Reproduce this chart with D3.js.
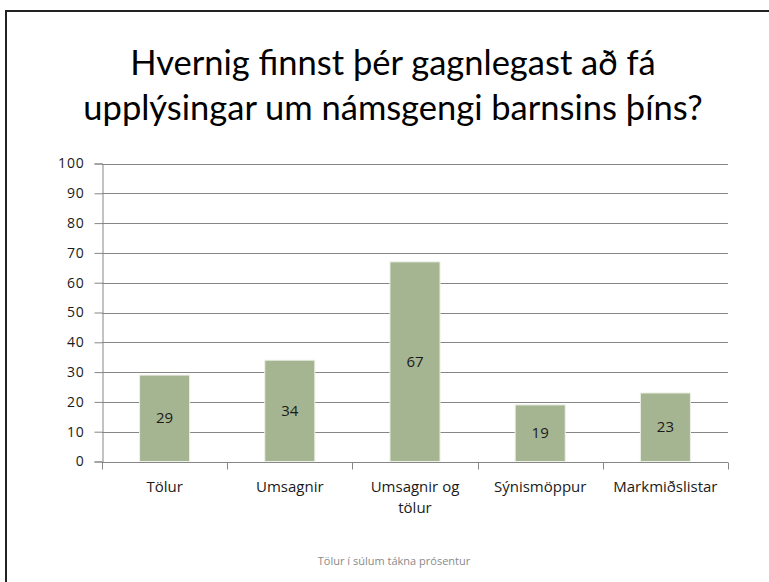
<!DOCTYPE html>
<html>
<head>
<meta charset="utf-8">
<script src="https://cdn.jsdelivr.net/npm/d3@7"></script>
<style>
  body { margin: 0; background: #fff; }
  svg { display: block; }
</style>
</head>
<body>
<svg id="chart"></svg>
<script>
const categories = ["Tölur", "Umsagnir", "Umsagnir og tölur", "Sýnismöppur", "Markmiðslistar"];
const values = [29, 34, 67, 19, 23];
const yTicks = [0, 10, 20, 30, 40, 50, 60, 70, 80, 90, 100];
const titleLines = ["Hvernig finnst þér gagnlegast að fá", "upplýsingar um námsgengi barnsins þíns?"];
const footnote = "Tölur í súlum tákna prósentur";

const width = 769;
const height = 582;
const margin = { top: 163.5, right: 41, bottom: 120.5, left: 102 };

const svg = d3.select("#chart").attr("width", width).attr("height", height);

// slide frame (right and bottom edges run off the picture)
svg.append("rect")
  .attr("x", 6).attr("y", 11)
  .attr("width", 820).attr("height", 620)
  .attr("fill", "none")
  .attr("stroke", "#222")
  .attr("stroke-width", 2);

svg.append("text")
  .attr("text-anchor", "middle")
  .attr("font-family", "Lato, sans-serif")
  .attr("font-size", "34.5px")
  .attr("fill", "#000")
  .selectAll("tspan")
  .data(titleLines)
  .join("tspan")
  .attr("x", 393)
  .attr("y", (d, i) => 75 + i * 45)
  .text((d) => d);

const x = d3.scaleBand()
  .domain(categories)
  .range([margin.left, width - margin.right])
  .paddingInner(0.6)
  .paddingOuter(0.3);

const y = d3.scaleLinear()
  .domain([0, 100])
  .range([height - margin.bottom, margin.top]);

// gridlines
svg.append("g")
  .selectAll("line")
  .data(yTicks)
  .join("line")
  .attr("x1", margin.left)
  .attr("x2", width - margin.right)
  .attr("y1", (d) => Math.round(y(d)) + 0.5)
  .attr("y2", (d) => Math.round(y(d)) + 0.5)
  .attr("stroke", "#868686")
  .attr("stroke-width", 1);

// y axis
const yAxis = svg.append("g")
  .attr("transform", `translate(${margin.left + 0.5},0)`)
  .call(d3.axisLeft(y).tickValues(yTicks).tickSize(8).tickPadding(10));
yAxis.select(".domain").attr("stroke", "#868686");
yAxis.selectAll(".tick line").attr("stroke", "#868686");
yAxis.selectAll(".tick text")
  .attr("font-family", "'Open Sans', sans-serif")
  .attr("font-size", "14px")
  .attr("letter-spacing", "0.8px")
  .attr("fill", "#1a1a1a");

// x axis with boundary ticks between categories
const xAxisG = svg.append("g")
  .attr("transform", `translate(0,${Math.round(y(0)) + 0.5})`);
xAxisG.append("line")
  .attr("x1", margin.left).attr("x2", width - margin.right)
  .attr("stroke", "#868686");
const boundaries = d3.range(categories.length + 1).map((i) =>
  i < categories.length
    ? x(categories[i]) - (x.step() - x.bandwidth()) / 2
    : x(categories[i - 1]) + x.bandwidth() + (x.step() - x.bandwidth()) / 2);
xAxisG.selectAll(".xt")
  .data(boundaries)
  .join("line")
  .attr("x1", (d) => Math.round(d) + 0.5)
  .attr("x2", (d) => Math.round(d) + 0.5)
  .attr("y1", 0).attr("y2", 7)
  .attr("stroke", "#868686");

const xLabels = svg.append("g")
  .selectAll("text")
  .data(categories)
  .join("text")
  .attr("text-anchor", "middle")
  .attr("font-family", "'Open Sans', sans-serif")
  .attr("font-size", "15px")
  .attr("fill", "#1a1a1a");
xLabels.each(function (d) {
  const words = d === "Umsagnir og tölur" ? ["Umsagnir og", "tölur"] : [d];
  d3.select(this).selectAll("tspan")
    .data(words)
    .join("tspan")
    .attr("x", x(d) + x.bandwidth() / 2)
    .attr("y", (w, i) => 492 + i * 21)
    .text((w) => w);
});

// bars
svg.append("g")
  .selectAll("rect")
  .data(values)
  .join("rect")
  .attr("x", (d, i) => x(categories[i]))
  .attr("y", (d) => y(d))
  .attr("width", x.bandwidth())
  .attr("height", (d) => y(0) - y(d))
  .attr("fill", "#a6b591")
  .attr("stroke", "#eef1e8")
  .attr("stroke-width", 1);

// bar value labels
svg.append("g")
  .selectAll("text")
  .data(values)
  .join("text")
  .attr("x", (d, i) => x(categories[i]) + x.bandwidth() / 2)
  .attr("y", (d) => (y(d) + y(0)) / 2 + 5)
  .attr("text-anchor", "middle")
  .attr("font-family", "'Open Sans', sans-serif")
  .attr("font-size", "15px")
  .attr("fill", "#1a1a1a")
  .text((d) => d);

svg.append("text")
  .attr("x", 394)
  .attr("y", 565)
  .attr("text-anchor", "middle")
  .attr("font-family", "'Open Sans', sans-serif")
  .attr("font-size", "11px")
  .attr("fill", "#8a8a8a")
  .text(footnote);
</script>
</body>
</html>
